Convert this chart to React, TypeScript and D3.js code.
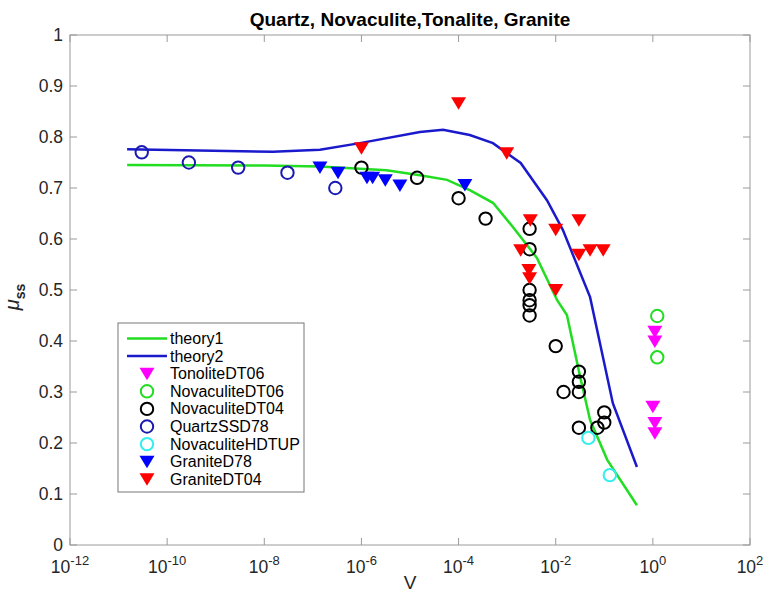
import * as d3 from "d3";
import { useEffect } from "react";

// theory curves
const theory1V = [1.5e-11, 1e-8, 1.4e-7, 3.3e-6, 1.6e-5, 5.8e-5, 1.7e-4, 5.1e-4, 1.3e-3, 4.1e-3, 1.07e-2, 1.7e-2, 3.2e-2, 5.1e-2, 1.15e-1, 4.7e-1];
const theory1Mu = [0.745, 0.744, 0.742, 0.735, 0.725, 0.716, 0.696, 0.671, 0.624, 0.563, 0.48, 0.451, 0.329, 0.245, 0.167, 0.078];
const theory2V = [1.5e-11, 1.5e-8, 1.4e-7, 9.3e-7, 1.6e-5, 4.8e-5, 1.7e-4, 5.1e-4, 1.9e-3, 6.6e-3, 1.4e-2, 5.1e-2, 1.5e-1, 4.7e-1];
const theory2Mu = [0.776, 0.771, 0.775, 0.788, 0.81, 0.814, 0.804, 0.788, 0.749, 0.676, 0.618, 0.486, 0.278, 0.153];

// experiments
const tonoliteV = [1.1, 1.1, 1.0, 1.1, 1.1];
const tonoliteMu = [0.418, 0.399, 0.271, 0.239, 0.219];
const novDT06V = [1.23, 1.23];
const novDT06Mu = [0.449, 0.368];
const novDT04V = [1e-6, 1.4e-5, 1e-4, 3.6e-4, 2.9e-3, 2.9e-3, 2.9e-3, 2.9e-3, 2.9e-3, 2.9e-3, 1e-2, 1.45e-2, 3e-2, 3e-2, 3e-2, 3e-2, 7.2e-2, 1e-1, 1e-1];
const novDT04Mu = [0.74, 0.72, 0.68, 0.64, 0.62, 0.58, 0.5, 0.48, 0.47, 0.45, 0.39, 0.3, 0.34, 0.32, 0.3, 0.23, 0.23, 0.24, 0.26];
const quartzV = [3e-11, 2.8e-10, 2.9e-9, 3e-8, 2.9e-7];
const quartzMu = [0.77, 0.75, 0.74, 0.73, 0.7];
const hdtupV = [4.7e-2, 1.3e-1];
const hdtupMu = [0.21, 0.137];
const graniteD78V = [1.4e-7, 3.3e-7, 1.3e-6, 1.7e-6, 3.1e-6, 6.2e-6, 1.35e-4];
const graniteD78Mu = [0.74, 0.73, 0.72, 0.72, 0.715, 0.705, 0.706];
const graniteDT04V = [1e-6, 1e-4, 9.8e-4, 3e-3, 3e-2, 1e-2, 1.9e-3, 2.8e-3, 2.9e-3, 1e-2, 3e-2, 5.1e-2, 9.5e-2];
const graniteDT04Mu = [0.778, 0.866, 0.768, 0.637, 0.637, 0.618, 0.578, 0.539, 0.523, 0.5, 0.569, 0.578, 0.578];

const xExps = [-12, -10, -8, -6, -4, -2, 0, 2];
const yTicks = [0, 0.1, 0.2, 0.3, 0.4, 0.5, 0.6, 0.7, 0.8, 0.9, 1];
const yLabels = ["0", "0.1", "0.2", "0.3", "0.4", "0.5", "0.6", "0.7", "0.8", "0.9", "1"];

const series = [
    { name: "TonoliteDT06", v: tonoliteV, mu: tonoliteMu, shape: "tri", color: "#ff00ff" },
    { name: "NovaculiteDT06", v: novDT06V, mu: novDT06Mu, shape: "circ", color: "#22dd22" },
    { name: "NovaculiteDT04", v: novDT04V, mu: novDT04Mu, shape: "circ", color: "#000000" },
    { name: "QuartzSSD78", v: quartzV, mu: quartzMu, shape: "circ", color: "#1a1ab0" },
    { name: "NovaculiteHDTUP", v: hdtupV, mu: hdtupMu, shape: "circ", color: "#33eeee" },
    { name: "GraniteD78", v: graniteD78V, mu: graniteD78Mu, shape: "tri", color: "#0000ff" },
    { name: "GraniteDT04", v: graniteDT04V, mu: graniteDT04Mu, shape: "tri", color: "#ff0000" },
];

const font = "'Liberation Sans', Arial, Helvetica, sans-serif";

function Marker({ shape, color, cx, cy }) {
    if (shape === "circ") {
        return <circle cx={cx} cy={cy} r={6.2} fill="none" stroke={color} strokeWidth={2} />;
    }
    return (
        <path
            d={`M${cx - 7.5},${cy - 6}L${cx + 7.5},${cy - 6}L${cx},${cy + 6.5}Z`}
            fill={color}
        />
    );
}

export default function App() {
    useEffect(() => {
        document.body.style.margin = "0";
    }, []);

    const width = 765;
    const height = 594;
    const left = 70, right = 750, top = 35, bottom = 545;

    const x = d3.scaleLog().domain([1e-12, 1e2]).range([left, right]);
    const y = d3.scaleLinear().domain([0, 1]).range([bottom, top]);

    const line = d3.line().x((d) => x(d[0])).y((d) => y(d[1]));
    const t1 = theory1V.map((v, i) => [v, theory1Mu[i]]);
    const t2 = theory2V.map((v, i) => [v, theory2Mu[i]]);

    const axisColor = "#9a9a9a";
    const tick = 7;

    const legX = 118, legY = 323, legW = 186, legH = 169;
    const rowY = (i) => 338.5 + i * 17.6;

    return (
        <svg width={width} height={height} style={{ display: "block", fontFamily: font }}>
            <rect x={0} y={0} width={width} height={height} fill="#fff" />
            {/* axes box */}
            <rect x={left} y={top} width={right - left} height={bottom - top} fill="none" stroke={axisColor} strokeWidth={1} />
            {xExps.map((e) => {
                const px = x(Math.pow(10, e));
                return (
                    <g key={"x" + e}>
                        <line x1={px} x2={px} y1={bottom} y2={bottom - tick} stroke={axisColor} />
                        <line x1={px} x2={px} y1={top} y2={top + tick} stroke={axisColor} />
                        <text x={px} y={573} textAnchor="middle" fontSize={17.5} fill="#262626">
                            10<tspan dy={-8} fontSize={13}>{e}</tspan>
                        </text>
                    </g>
                );
            })}
            {yTicks.map((t, i) => {
                const py = y(t);
                return (
                    <g key={"y" + i}>
                        <line x1={left} x2={left + tick} y1={py} y2={py} stroke={axisColor} />
                        <line x1={right} x2={right - tick} y1={py} y2={py} stroke={axisColor} />
                        <text x={63} y={py + 6} textAnchor="end" fontSize={17.5} fill="#262626">
                            {yLabels[i]}
                        </text>
                    </g>
                );
            })}

            {/* theory lines */}
            <path d={line(t1)} fill="none" stroke="#22dd22" strokeWidth={2.5} />
            <path d={line(t2)} fill="none" stroke="#1a1acc" strokeWidth={2.5} />

            {series.map((s) =>
                s.v.map((v, i) => (
                    <Marker key={s.name + i} shape={s.shape} color={s.color} cx={x(v)} cy={y(s.mu[i])} />
                ))
            )}

            {/* title and labels */}
            <text x={(left + right) / 2} y={26} textAnchor="middle" fontSize={19} fontWeight="bold" fill="#000">
                Quartz, Novaculite,Tonalite, Granite
            </text>
            <text x={(left + right) / 2} y={589} textAnchor="middle" fontSize={19} fill="#262626">
                V
            </text>
            <text transform="translate(19,297) rotate(-90)" textAnchor="middle" fontSize={20} fill="#262626">
                <tspan fontStyle="italic">μ</tspan>
                <tspan dy={6} fontSize={14} fontWeight="bold">ss</tspan>
            </text>

            {/* legend */}
            <rect x={legX} y={legY} width={legW} height={legH} fill="#fff" stroke="#777" strokeWidth={1} />
            <line x1={127} x2={167} y1={rowY(0)} y2={rowY(0)} stroke="#22dd22" strokeWidth={2.5} />
            <text x={170} y={rowY(0) + 5.5} fontSize={16} fill="#000">theory1</text>
            <line x1={127} x2={167} y1={rowY(1)} y2={rowY(1)} stroke="#1a1acc" strokeWidth={2.5} />
            <text x={170} y={rowY(1) + 5.5} fontSize={16} fill="#000">theory2</text>
            {series.map((s, i) => (
                <g key={"leg" + s.name}>
                    <Marker shape={s.shape} color={s.color} cx={147} cy={rowY(i + 2)} />
                    <text x={170} y={rowY(i + 2) + 5.5} fontSize={16} fill="#000">{s.name}</text>
                </g>
            ))}
        </svg>
    );
}
